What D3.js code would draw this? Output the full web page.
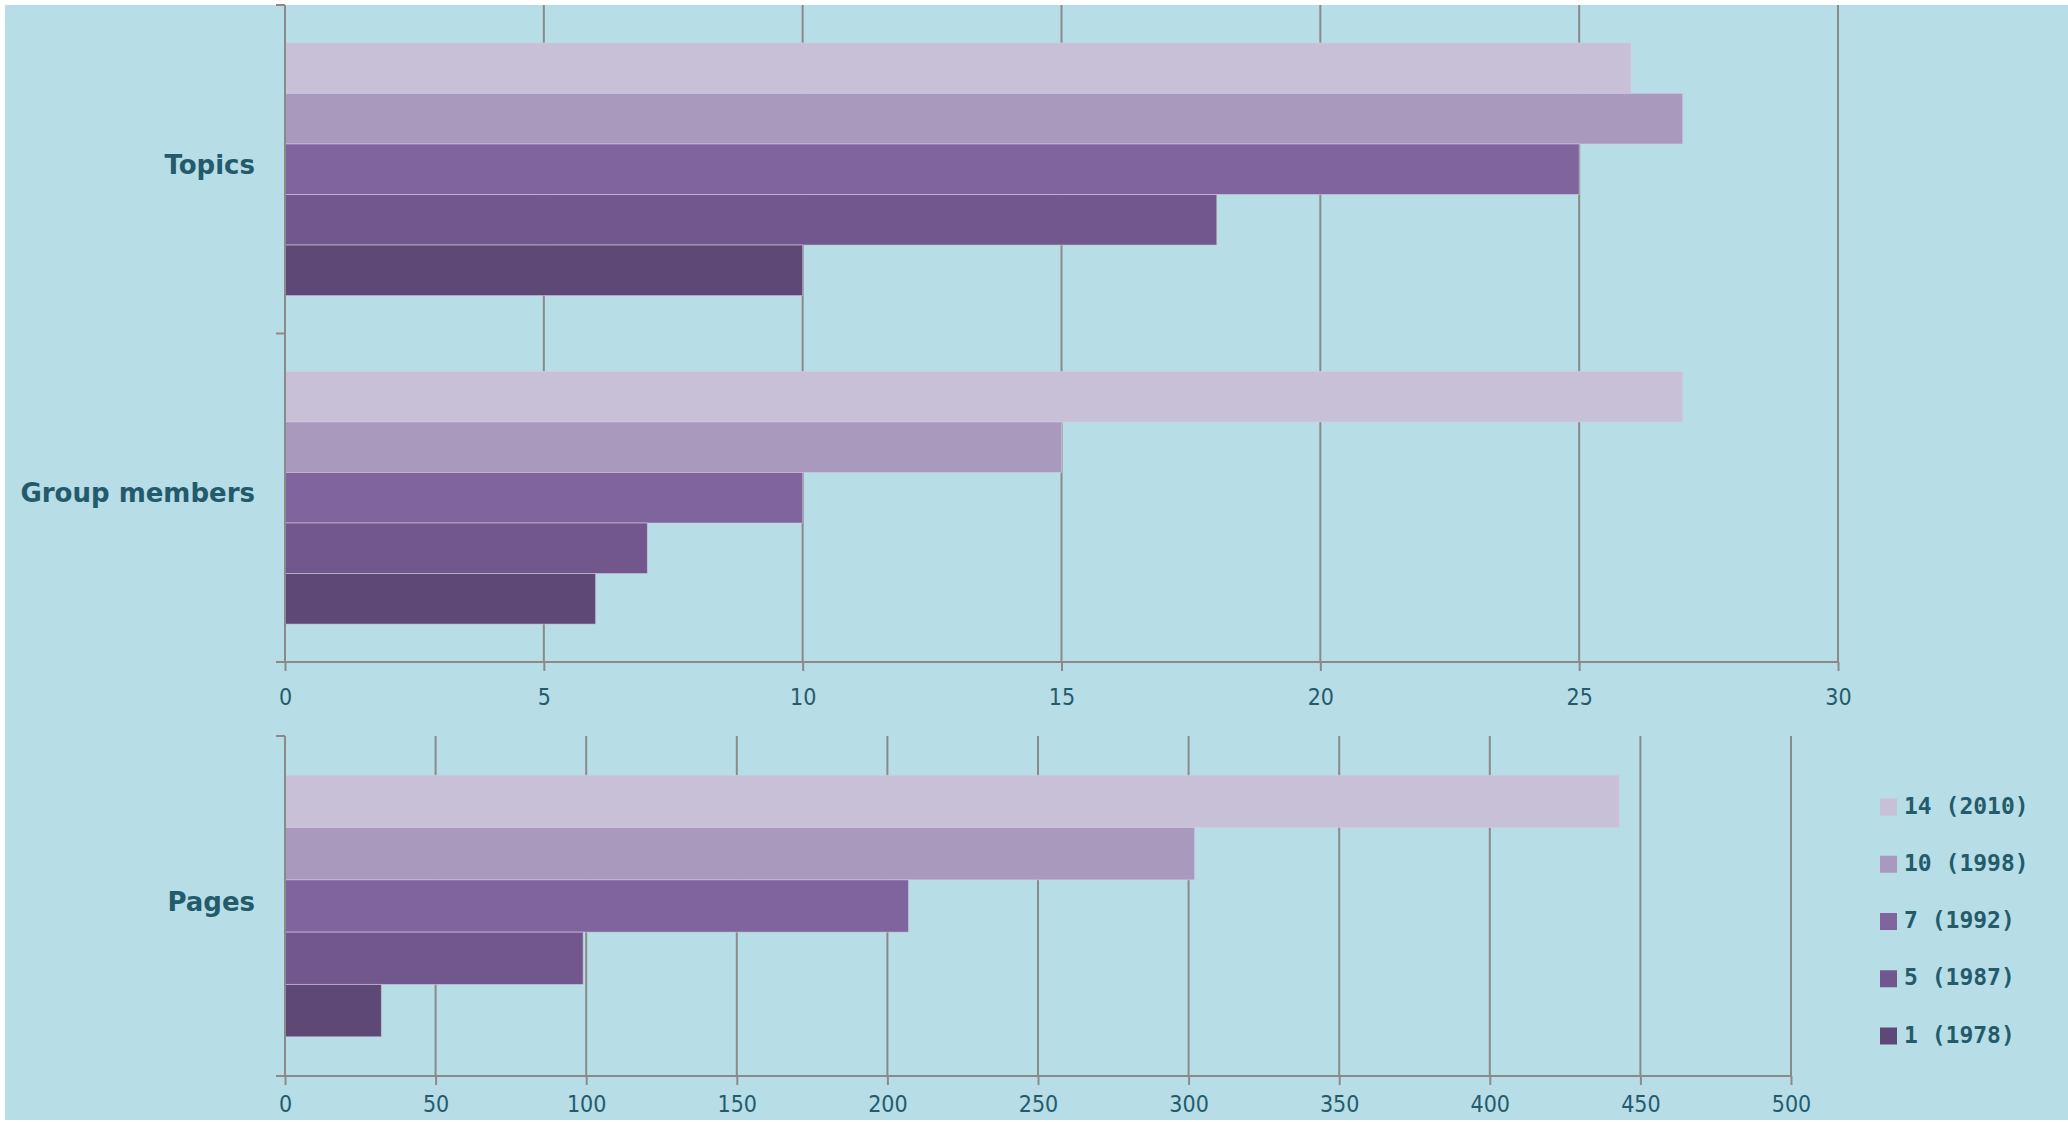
<!DOCTYPE html>
<html>
<head>
<meta charset="utf-8">
<script src="https://cdn.jsdelivr.net/npm/d3@7"></script>
<style>
  body { margin: 0; background: #ffffff; }
</style>
</head>
<body>
<script>
// données
const series = ["14 (2010)", "10 (1998)", "7 (1992)", "5 (1987)", "1 (1978)"];
const colors = ["#c7c0d6", "#a999bd", "#80649e", "#71578b", "#5e4876"];
const topCategories = ["Topics", "Group members"];
const topics = [26, 27, 25, 18, 10];
const groupMembers = [27, 15, 10, 7, 6];
const bottomCategories = ["Pages"];
const pages = [443, 302, 207, 99, 32];
const topTicks = [0, 5, 10, 15, 20, 25, 30];
const bottomTicks = [0, 50, 100, 150, 200, 250, 300, 350, 400, 450, 500];

const textColor = "#245b6b";
const gridColor = "#8a8a8a";

let canevas = d3.select("body")
    .append("svg")
    .attr("width", 2068)
    .attr("height", 1122);

// fond
canevas.append("rect")
    .attr("x", 5)
    .attr("y", 5)
    .attr("width", 2063)
    .attr("height", 1115)
    .attr("fill", "#b7dde6");

const color = d3.scaleOrdinal().domain(series).range(colors);

function panel(categories, values, ticks, xRange, yRange, labelOffset) {
    const x = d3.scaleLinear()
        .domain([ticks[0], ticks[ticks.length - 1]])
        .range(xRange);
    const y = d3.scaleBand()
        .domain(categories)
        .range(yRange);
    const yInner = d3.scaleBand()
        .domain(series)
        .range([0, y.bandwidth()])
        .paddingInner(0)
        .paddingOuter(0.75);

    const g = canevas.append("g");

    // grille verticale
    g.selectAll("line.grid")
        .data(ticks.slice(1))
        .enter().append("line")
        .attr("x1", d => x(d))
        .attr("x2", d => x(d))
        .attr("y1", yRange[0])
        .attr("y2", yRange[1])
        .style("stroke", gridColor)
        .style("stroke-width", 2);

    // barres
    categories.forEach((cat, i) => {
        g.selectAll("rect.c" + i)
            .data(values[i].map((v, j) => ({ s: series[j], v: v })))
            .enter().append("rect")
            .attr("x", x(0))
            .attr("y", d => y(cat) + yInner(d.s))
            .attr("width", d => x(d.v) - x(0))
            .attr("height", yInner.bandwidth())
            .style("fill", d => color(d.s))
            .style("stroke", "rgba(215,205,230,0.55)")
            .style("stroke-width", 1);
    });

    // axe x
    const axis = g.append("g")
        .attr("transform", "translate(0," + yRange[1] + ")")
        .call(d3.axisBottom(x).tickValues(ticks).tickSizeInner(9).tickSizeOuter(0).tickPadding(labelOffset));
    axis.select(".domain").remove();
    axis.selectAll(".tick line")
        .style("stroke", gridColor)
        .style("stroke-width", 2);
    axis.selectAll("text")
        .style("fill", textColor)
        .style("font-family", "DejaVu Sans")
        .style("font-stretch", "condensed")
        .style("font-size", "23px");

    g.append("line")
        .attr("x1", x(0) - 9)
        .attr("x2", xRange[1])
        .attr("y1", yRange[1])
        .attr("y2", yRange[1])
        .style("stroke", gridColor)
        .style("stroke-width", 2);

    // axe y
    g.append("line")
        .attr("x1", x(0))
        .attr("x2", x(0))
        .attr("y1", yRange[0])
        .attr("y2", yRange[1])
        .style("stroke", gridColor)
        .style("stroke-width", 2);
    const bounds = categories.map(c => y(c)).concat([yRange[1]]);
    g.selectAll("line.ytick")
        .data(bounds)
        .enter().append("line")
        .attr("x1", x(0) - 9)
        .attr("x2", x(0))
        .attr("y1", d => d)
        .attr("y2", d => d)
        .style("stroke", gridColor)
        .style("stroke-width", 2);

    g.selectAll("text.cat")
        .data(categories)
        .enter().append("text")
        .attr("x", x(0) - 30)
        .attr("y", d => y(d) + y.bandwidth() / 2 - 3)
        .attr("text-anchor", "end")
        .attr("dominant-baseline", "middle")
        .style("fill", textColor)
        .style("font-family", "DejaVu Sans")
        .style("font-weight", "bold")
        .style("font-size", "26px")
        .text(d => d);
}

panel(topCategories, [topics, groupMembers], topTicks, [285, 1838], [5, 662], 18);
panel(bottomCategories, [pages], bottomTicks, [285, 1791], [736, 1076], 11);

// légende
const legend = canevas.append("g");
const legendY = d3.scalePoint().domain(series).range([807, 1036]);
legend.selectAll("rect")
    .data(series)
    .enter().append("rect")
    .attr("x", 1880)
    .attr("y", d => legendY(d) - 8.5)
    .attr("width", 17)
    .attr("height", 17)
    .style("fill", d => color(d));
legend.selectAll("text")
    .data(series)
    .enter().append("text")
    .attr("x", 1904)
    .attr("y", d => legendY(d))
    .attr("dominant-baseline", "middle")
    .style("fill", textColor)
    .style("font-family", "DejaVu Sans Mono")
    .style("font-weight", "bold")
    .style("font-size", "23px")
    .text(d => d);
</script>
</body>
</html>
